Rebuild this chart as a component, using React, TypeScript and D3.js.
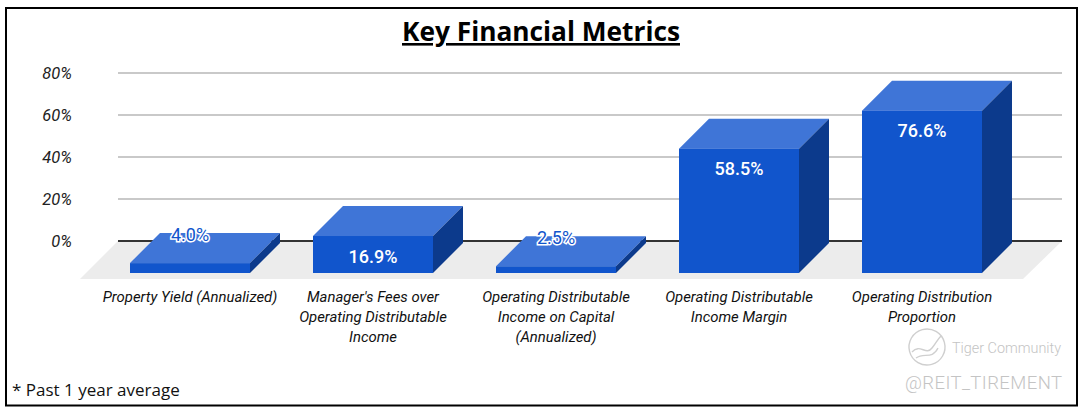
import React from "react";
import * as d3 from "d3";

const categories = [
  ["Property Yield (Annualized)"],
  ["Manager's Fees over", "Operating Distributable", "Income"],
  ["Operating Distributable", "Income on Capital", "(Annualized)"],
  ["Operating Distributable", "Income Margin"],
  ["Operating Distribution", "Proportion"],
];
const values = [4.0, 16.9, 2.5, 58.5, 76.6];
const yTicks = [0, 20, 40, 60, 80];

const W = 1082;
const H = 408;
const DEPTH = 30;
const BASE_Y = 273;
const FRONT_SHIFT = 30.5;
const FLOOR_FRONT_Y = 279;

const y = d3.scaleLinear().domain([0, 80]).range([241, 73]);
const x = d3
  .scaleBand<number>()
  .domain(d3.range(values.length))
  .range([98.5, 1013.5])
  .paddingInner(63 / 183)
  .paddingOuter(31.5 / 183);

const poly = d3.line();

const COLORS = {
  front: "#1155cc",
  top: "#3f75d7",
  side: "#0c3a8c",
  grid: "#c9c9c9",
  zero: "#333333",
  floor: "#ececec",
};

export default function App() {
  const x0 = 118;
  const x1 = 1062;
  const zero = y(0);
  return (
    <svg
      width={W}
      height={H}
      style={{ position: "absolute", left: 0, top: 0, background: "#fff" }}
    >
      <rect x={6} y={8} width={1071} height={397.5} fill="#fff" stroke="#000" strokeWidth={2} />

      <text
        x={541}
        y={41}
        textAnchor="middle"
        fontFamily="'Open Sans'"
        fontWeight={700}
        fontSize={26}
        textDecoration="underline"
        textLength={278}
        lengthAdjust="spacingAndGlyphs"
        fill="#000"
      >
        Key Financial Metrics
      </text>

      <path
        d={poly([[x0, zero], [x1, zero], [1023, FLOOR_FRONT_Y], [80, FLOOR_FRONT_Y]])! + "Z"}
        fill={COLORS.floor}
      />
      {yTicks.map((t) => (
        <g key={t}>
          <line
            x1={x0}
            x2={x1}
            y1={y(t)}
            y2={y(t)}
            stroke={t === 0 ? COLORS.zero : COLORS.grid}
            strokeWidth={t === 0 ? 2 : 1.8}
          />
          <text
            x={72}
            y={y(t) + 6}
            textAnchor="end"
            fontFamily="Roboto"
            fontStyle="italic"
            fontSize={16.5}
            fill="#222"
          >
            {t}%
          </text>
        </g>
      ))}

      {values.map((v, i) => {
        const left = x(i)!;
        const right = left + x.bandwidth();
        const top = y(v) + FRONT_SHIFT;
        const small = v < 10;
        const cx = left + x.bandwidth() / 2;
        return (
          <g key={i}>
            <path
              d={poly([[left, top], [right, top], [right + DEPTH, top - DEPTH], [left + DEPTH, top - DEPTH]])! + "Z"}
              fill={COLORS.top}
            />
            <path
              d={poly([[right, top], [right + DEPTH, top - DEPTH], [right + DEPTH, BASE_Y - DEPTH], [right, BASE_Y]])! + "Z"}
              fill={COLORS.side}
            />
            <rect x={left} y={top} width={x.bandwidth()} height={BASE_Y - top} fill={COLORS.front} />
            <text
              x={cx}
              y={small ? top - 22 : top + 26.5}
              textAnchor="middle"
              fontFamily="Roboto"
              fontWeight={small ? 400 : 500}
              fontSize={18}
              fill={small ? COLORS.front : "#fff"}
              stroke={small ? "#fff" : "none"}
              strokeWidth={small ? 3 : 0}
              paintOrder="stroke"
            >
              {v.toFixed(1)}%
            </text>
          </g>
        );
      })}

      {categories.map((lines, i) => (
        <text
          key={i}
          textAnchor="middle"
          fontFamily="Roboto"
          fontStyle="italic"
          fontSize={14.9}
          fill="#111"
        >
          {lines.map((l, j) => (
            <tspan key={j} x={x(i)! + x.bandwidth() / 2} y={302 + j * 20}>
              {l}
            </tspan>
          ))}
        </text>
      ))}

      <text x={12} y={396} fontFamily="'Open Sans'" fontSize={17} fill="#111">
        * Past 1 year average
      </text>

      <g fill="none" stroke="#cfcfcf" strokeWidth={1.4}>
        <ellipse cx={927} cy={347} rx={18} ry={18} transform="rotate(30 927 347)" />
        <path d="M912 352 C920 343 926 356 932 348 C936 343 937 340 941 336" />
        <path d="M916 358 C924 352 932 360 938 348" />
      </g>
      <text x={952} y={353} fontFamily="Roboto" fontWeight={300} fontSize={14.4} fill="#c4c4c4">
        Tiger Community
      </text>
      <text
        x={905}
        y={389}
        fontFamily="Roboto"
        fontWeight={300}
        fontSize={18.5}
        textLength={157}
        fill="#c4c4c4"
      >
        @REIT_TIREMENT
      </text>
    </svg>
  );
}
